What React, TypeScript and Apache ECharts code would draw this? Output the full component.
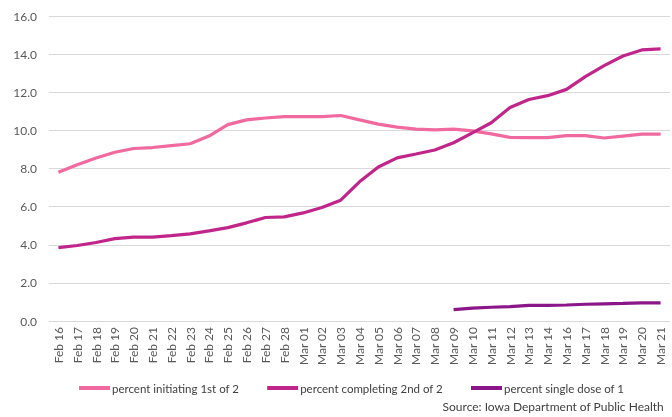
import React, { useEffect, useRef } from "react";
import * as echarts from "echarts";

const categories = [
  "Feb 16", "Feb 17", "Feb 18", "Feb 19", "Feb 20", "Feb 21", "Feb 22", "Feb 23", "Feb 24", "Feb 25", "Feb 26", "Feb 27", "Feb 28",
  "Mar 01", "Mar 02", "Mar 03", "Mar 04", "Mar 05", "Mar 06", "Mar 07", "Mar 08", "Mar 09", "Mar 10", "Mar 11", "Mar 12", "Mar 13", "Mar 14",
  "Mar 16", "Mar 17", "Mar 18", "Mar 19", "Mar 20", "Mar 21",
];

const initiating = [
  7.8, 8.2, 8.55, 8.85, 9.05, 9.1, 9.2, 9.3, 9.7, 10.3, 10.55, 10.65, 10.72,
  10.72, 10.72, 10.78, 10.55, 10.33, 10.17, 10.07, 10.03, 10.07, 9.97, 9.82, 9.63, 9.62, 9.62,
  9.72, 9.72, 9.6, 9.7, 9.8, 9.8,
];

const completing = [
  3.85, 3.96, 4.12, 4.32, 4.4, 4.4, 4.48, 4.57, 4.73, 4.9, 5.15, 5.43, 5.46,
  5.67, 5.95, 6.34, 7.3, 8.08, 8.56, 8.76, 8.97, 9.35, 9.87, 10.4, 11.2, 11.62, 11.82,
  12.15, 12.82, 13.4, 13.9, 14.22, 14.28,
];

const singleDose: (number | null)[] = [
  null, null, null, null, null, null, null, null, null, null, null, null, null,
  null, null, null, null, null, null, null, null, 0.6, 0.68, 0.72, 0.75, 0.82, 0.82,
  0.84, 0.88, 0.9, 0.92, 0.95, 0.95,
];

const seriesNames = ["percent initiating 1st of 2", "percent completing 2nd of 2", "percent single dose of 1"];
const colors = ["#F06A9F", "#C0268A", "#8B1689"];
const sourceText = "Source: Iowa Department of Public Health";

export default function App() {
  const ref = useRef<HTMLDivElement>(null);
  useEffect(() => {
    if (!ref.current) return;
    const chart = echarts.init(ref.current, undefined, { renderer: "svg" });
    const font = "Lato, 'Liberation Sans', sans-serif";
    const data = [initiating, completing, singleDose];
    chart.setOption({
      animation: false,
      textStyle: { fontFamily: font },
      color: colors,
      grid: { left: 49, right: 2, top: 16, bottom: 96, containLabel: false },
      xAxis: {
        type: "category",
        data: categories,
        boundaryGap: true,
        axisLine: { show: false },
        axisTick: { show: false },
        axisLabel: { rotate: 90, color: "#595959", fontSize: 12, fontFamily: font, margin: 6, interval: 0 },
      },
      yAxis: {
        type: "value",
        min: 0,
        max: 16,
        interval: 2,
        axisLine: { show: false },
        axisTick: { show: false },
        splitLine: { lineStyle: { color: "#D9D9D9", width: 1 } },
        axisLabel: {
          color: "#595959",
          fontSize: 12,
          fontFamily: font,
          margin: 12,
          formatter: (v: number) => v.toFixed(1),
        },
      },
      legend: {
        left: 74,
        top: 377,
        icon: "rect",
        itemWidth: 31,
        itemHeight: 4,
        itemGap: 28,
        textStyle: { color: "#404040", fontSize: 11.5, fontFamily: font, padding: [0, 0, 0, -3] },
        data: seriesNames,
      },
      graphic: [
        {
          type: "text",
          right: 8,
          top: 400,
          style: { text: sourceText, fill: "#404040", fontSize: 12, fontFamily: font },
        },
      ],
      series: seriesNames.map((name, i) => ({
        name,
        type: "line",
        data: data[i],
        showSymbol: false,
        symbol: "none",
        lineStyle: { width: 3.2, color: colors[i] },
        itemStyle: { color: colors[i] },
        connectNulls: false,
      })),
    });
    return () => chart.dispose();
  }, []);
  return <div ref={ref} style={{ position: "fixed", left: 0, top: 0, width: 672, height: 417 }} />;
}
